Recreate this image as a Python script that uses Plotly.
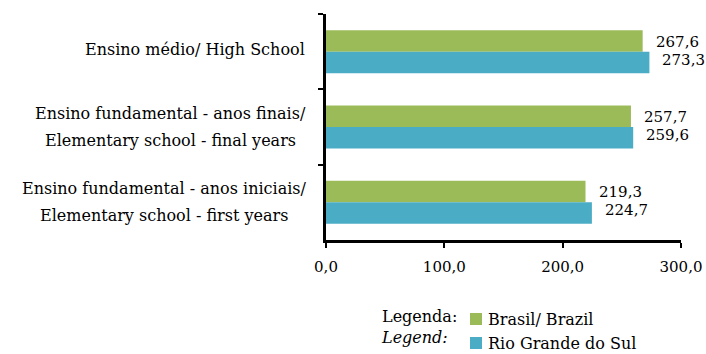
import plotly.graph_objects as go

# Proficiency scores by school level
categories = [
    "Ensino médio/ High School",
    "Ensino fundamental - anos finais/<br>Elementary school - final years",
    "Ensino fundamental - anos iniciais/<br>Elementary school - first years",
]
brasil = [267.6, 257.7, 219.3]
rio_grande_do_sul = [273.3, 259.6, 224.7]
series_names = ["Brasil/ Brazil", "Rio Grande do Sul"]
x_ticks = [0, 100, 200, 300]

FONT = "DejaVu Serif"
FS = 16
FS_NUM = 15
GREEN = "#9BBB59"
BLUE = "#4BACC6"
COLORS = [GREEN, BLUE]

W, H = 706, 354
M = dict(l=326, r=25, t=14, b=114, autoexpand=False)
PLOT_W = W - M["l"] - M["r"]
PLOT_H = H - M["t"] - M["b"]


def px_x(px):
    """Horizontal pixel position -> paper coordinate."""
    return (px - M["l"]) / PLOT_W


def px_y(py):
    """Vertical pixel position (from top) -> paper coordinate."""
    return (H - M["b"] - py) / PLOT_H


def fmt(v):
    return f"{v:.1f}".replace(".", ",")


fig = go.Figure()
for name, vals, col in zip(series_names, [brasil, rio_grande_do_sul], COLORS):
    fig.add_trace(go.Bar(y=categories, x=vals, orientation="h", name=name,
                         marker=dict(color=col, line=dict(width=0))))

txt = dict(family=FONT, size=FS, color="black")
num = dict(family=FONT, size=FS_NUM, color="black")
annotations = []
# value labels beside each bar
for cat, vb, vr in zip(categories, brasil, rio_grande_do_sul):
    annotations.append(dict(x=vb, y=cat, xref="x", yref="y", text=fmt(vb), showarrow=False,
                            xanchor="left", yanchor="middle", xshift=11, yshift=10, font=num))
    annotations.append(dict(x=vr, y=cat, xref="x", yref="y", text=fmt(vr), showarrow=False,
                            xanchor="left", yanchor="middle", xshift=11, yshift=-8, font=num))

# category labels; two-line labels get wider line spacing and centred lines
label_centres = [None, 170, 164]
for cat, centre in zip(categories, label_centres):
    lines = cat.split("<br>")
    if len(lines) == 1:
        annotations.append(dict(x=0, y=cat, xref="paper", yref="y", text=cat, showarrow=False,
                                xanchor="right", yanchor="middle", xshift=-19, yshift=2,
                                font=txt))
    else:
        for line, dy in zip(lines, [14, -13]):
            annotations.append(dict(x=px_x(centre), y=cat, xref="paper", yref="y", text=line,
                                    showarrow=False, xanchor="center", yanchor="middle",
                                    yshift=dy, font=txt))

# legend block below the axis
annotations.append(dict(x=px_x(459), y=px_y(327), xref="paper", yref="paper",
                        text="Legenda:<br><i>Legend:</i>", showarrow=False,
                        xanchor="right", yanchor="middle", align="left", font=txt))
shapes = []
for i, (name, col) in enumerate(zip(series_names, COLORS)):
    top = 313 + 24 * i
    shapes.append(dict(type="rect", xref="paper", yref="paper",
                       x0=px_x(470), x1=px_x(482), y0=px_y(top + 12), y1=px_y(top),
                       fillcolor=col, line=dict(width=0)))
    annotations.append(dict(x=px_x(486), y=px_y(top + 6), xref="paper", yref="paper",
                            text=name, showarrow=False, xanchor="left", yanchor="middle",
                            font=txt))

fig.update_layout(
    width=W, height=H,
    margin=M,
    paper_bgcolor="white", plot_bgcolor="white",
    barmode="group", bargap=0.43, bargroupgap=0,
    separators=",.",
    font=txt,
    showlegend=False,
    xaxis=dict(range=[0, 300], tickvals=x_ticks, tickformat=".1f", automargin=False,
               showgrid=False, zeroline=False, showline=True, linecolor="black", linewidth=3,
               ticks="outside", ticklen=5, tickwidth=2, tickcolor="black", tickfont=num,
               ticklabelstandoff=6),
    yaxis=dict(type="category", autorange="reversed", showticklabels=False, automargin=False,
               showgrid=False, zeroline=False, showline=True, linecolor="black", linewidth=3,
               ticks="outside", ticklen=5, tickwidth=2, tickcolor="black", tickson="boundaries"),
    annotations=annotations,
    shapes=shapes,
)

fig.write_html("out.html")
